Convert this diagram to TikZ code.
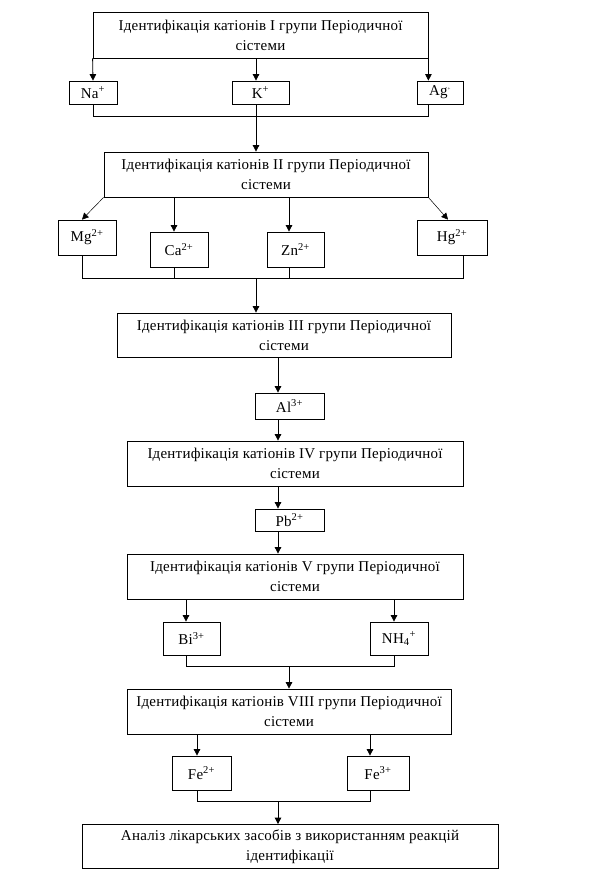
\documentclass[tikz,border=0pt]{standalone}
\usepackage{fontspec}
\setmainfont{Liberation Serif}[LetterSpace=1.5]
\usetikzlibrary{arrows.meta}
\begin{document}
\begin{tikzpicture}[x=1pt,y=-1pt,
  box/.style={draw,line width=0.8pt,inner sep=0pt,align=center,
    font=\fontsize{15}{20}\selectfont},
  ln/.style={line width=0.8pt},
  arr/.style={line width=0.8pt,-{Triangle[length=6.5pt,width=6.5pt]}},
  diag/.style={line width=0.5pt,-{Triangle[length=6.5pt,width=6.5pt]}}]
\useasboundingbox (0,0) rectangle (591,870);
% boxes
\node[box,minimum width=335pt,minimum height=46pt] (b1) at (260.5,35) {Ідентифікація катіонів I групи Періодичної\\сістеми};
\node[box,minimum width=48pt,minimum height=23pt] (na) at (93,92.5) {Na\textsuperscript{+}};
\node[box,minimum width=57pt,minimum height=23pt] (k) at (260.5,92.5) {K\textsuperscript{+}};
\node[box,minimum width=46pt,minimum height=23pt] (ag) at (440,92.5) {Ag\textsuperscript{\tiny +}};
\node[box,minimum width=324pt,minimum height=45pt] (b2) at (266,174.5) {Ідентифікація катіонів II групи Періодичної\\сістеми};
\node[box,minimum width=58pt,minimum height=35pt] (mg) at (87,237.5) {Mg\textsuperscript{2+}};
\node[box,minimum width=58pt,minimum height=35pt] (ca) at (179,249.5) {Ca\textsuperscript{2+}};
\node[box,minimum width=57pt,minimum height=35pt] (zn) at (295.5,249.5) {Zn\textsuperscript{2+}};
\node[box,minimum width=70pt,minimum height=35pt] (hg) at (452,237.5) {Hg\textsuperscript{2+}};
\node[box,minimum width=334pt,minimum height=44pt] (b3) at (284,335) {Ідентифікація катіонів III групи Періодичної\\сістеми};
\node[box,minimum width=69pt,minimum height=26pt] (al) at (289.5,406) {Al\textsuperscript{3+}};
\node[box,minimum width=336pt,minimum height=45pt] (b4) at (295,463.5) {Ідентифікація катіонів IV групи Періодичної\\сістеми};
\node[box,minimum width=69pt,minimum height=22pt] (pb) at (289.5,520) {Pb\textsuperscript{2+}};
\node[box,minimum width=336pt,minimum height=45pt] (b5) at (295,576.5) {Ідентифікація катіонів V групи Періодичної\\сістеми};
\node[box,minimum width=57pt,minimum height=33pt] (bi) at (191.5,638.5) {Bi\textsuperscript{3+}};
\node[box,minimum width=58pt,minimum height=33pt] (nh) at (399,638.5) {NH\textsubscript{4}\textsuperscript{+}};
\node[box,minimum width=324pt,minimum height=45pt] (b6) at (289,711.5) {Ідентифікація катіонів VIII групи Періодичної\\сістеми};
\node[box,minimum width=59pt,minimum height=34pt] (fe2) at (201.5,773) {Fe\textsuperscript{2+}};
\node[box,minimum width=62pt,minimum height=34pt] (fe3) at (378,773) {Fe\textsuperscript{3+}};
\node[box,minimum width=416pt,minimum height=44pt] (b7) at (290,846.5) {Аналіз лікарських засобів з використанням реакцій\\ідентифікації};
% guide coordinates
\coordinate (xk) at (256,0);
\coordinate (xm) at (278,0);
\coordinate (xv) at (289,0);
\coordinate (xmg) at (82,0);
\coordinate (xca) at (174,0);
\coordinate (xzn) at (289,0);
\coordinate (xhg) at (463,0);
\coordinate (xhga) at (448,0);
\coordinate (xbi) at (186,0);
\coordinate (xnh) at (394,0);
\coordinate (xf2) at (197,0);
\coordinate (xf3) at (370,0);
\coordinate (j1) at (0,116);
\coordinate (j2) at (0,278);
\coordinate (j3) at (0,666);
\coordinate (j4) at (0,801);
% group I
\draw[arr] (b1.south west) -- (na.north);
\draw[arr] (b1.south -| xk) -- (k.north -| xk);
\draw[arr] (b1.south east) -- (ag.north -| b1.south east);
\draw[ln] (na.south) -- (na.south |- j1) -- (j1 -| b1.east) -- (ag.south -| b1.east);
\draw[arr] (k.south -| xk) -- (b2.north -| xk);
% group II
\draw[diag] (b2.south west) -- (mg.north -| xmg);
\draw[arr] (b2.south -| xca) -- (ca.north -| xca);
\draw[arr] (b2.south -| xzn) -- (zn.north -| xzn);
\draw[diag] (b2.south east) -- (hg.north -| xhga);
\draw[ln] (mg.south -| xmg) -- (j2 -| xmg) -- (j2 -| xhg) -- (hg.south -| xhg);
\draw[ln] (ca.south -| xca) -- (j2 -| xca);
\draw[ln] (zn.south -| xzn) -- (j2 -| xzn);
\draw[arr] (j2 -| xk) -- (b3.north -| xk);
% groups III, IV
\draw[arr] (b3.south -| xm) -- (al.north -| xm);
\draw[arr] (al.south -| xm) -- (b4.north -| xm);
\draw[arr] (b4.south -| xm) -- (pb.north -| xm);
\draw[arr] (pb.south -| xm) -- (b5.north -| xm);
% group V
\draw[arr] (b5.south -| xbi) -- (bi.north -| xbi);
\draw[arr] (b5.south -| xnh) -- (nh.north -| xnh);
\draw[ln] (bi.south -| xbi) -- (j3 -| xbi) -- (j3 -| xnh) -- (nh.south -| xnh);
\draw[arr] (j3 -| xv) -- (b6.north -| xv);
% group VIII
\draw[arr] (b6.south -| xf2) -- (fe2.north -| xf2);
\draw[arr] (b6.south -| xf3) -- (fe3.north -| xf3);
\draw[ln] (fe2.south -| xf2) -- (j4 -| xf2) -- (j4 -| xf3) -- (fe3.south -| xf3);
\draw[arr] (j4 -| xm) -- (b7.north -| xm);
\end{tikzpicture}
\end{document}
